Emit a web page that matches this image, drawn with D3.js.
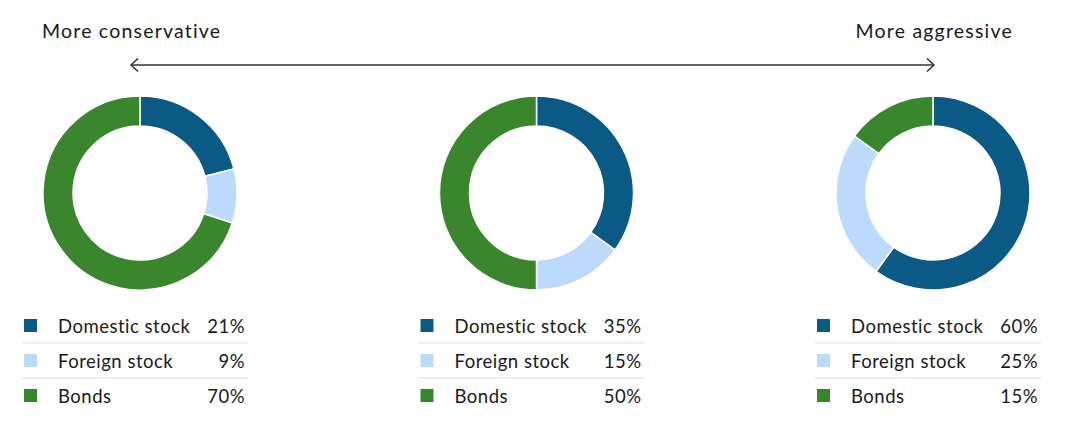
<!DOCTYPE html>
<html>
<head>
<meta charset="utf-8">
<style>
  body { margin: 0; background: #fff; }
  svg { display: block; font-family: Lato, "Open Sans", sans-serif; }
</style>
</head>
<body>
<script src="https://cdn.jsdelivr.net/npm/d3@7"></script>
<script>
var categories = ["Domestic stock", "Foreign stock", "Bonds"];
var conservative = [21, 9, 70];
var balanced = [35, 15, 50];
var aggressive = [60, 25, 15];
var portfolios = [conservative, balanced, aggressive];
var colors = ["#0b5a85", "#bcdbfc", "#3a862c"];

var w = 1078, h = 426,
    cy = 193,
    rOuter = 97,
    rInner = 67;

var svg = d3.select("body").append("svg")
    .attr("width", w)
    .attr("height", h);

var x = d3.scalePoint()
    .domain(d3.range(portfolios.length))
    .range([140, 933]);

var color = d3.scaleOrdinal().domain(categories).range(colors);

// header labels + arrow
svg.append("text")
    .attr("x", 42).attr("y", 38)
    .style("font-size", "19.5px").style("letter-spacing", "1.2px").style("fill", "#1a1a1a")
    .text("More conservative");
svg.append("text")
    .attr("x", 1013).attr("y", 38)
    .attr("text-anchor", "end")
    .style("font-size", "19.5px").style("letter-spacing", "1.2px").style("fill", "#1a1a1a")
    .text("More aggressive");

svg.append("line")
    .attr("x1", 131).attr("x2", 934)
    .attr("y1", 65).attr("y2", 65)
    .style("stroke", "#333").style("stroke-width", 1.5);
svg.append("path")
    .attr("d", "M138,58.5L131,65L138,71.5")
    .style("fill", "none").style("stroke", "#333").style("stroke-width", 1.5);
svg.append("path")
    .attr("d", "M927,58.5L934,65L927,71.5")
    .style("fill", "none").style("stroke", "#333").style("stroke-width", 1.5);

var pie = d3.pie().sort(null).value(function(d) { return d; });
var arc = d3.arc().innerRadius(rInner).outerRadius(rOuter);

var groups = svg.selectAll("g.portfolio")
    .data(portfolios)
  .enter().append("g")
    .attr("class", "portfolio")
    .attr("transform", function(d, i) { return "translate(" + x(i) + ",0)"; });

groups.append("g")
    .attr("transform", "translate(0," + cy + ")")
  .selectAll("path")
    .data(function(d) { return pie(d); })
  .enter().append("path")
    .attr("d", arc)
    .style("fill", function(d, i) { return colors[i]; })
    .style("stroke", "#fff")
    .style("stroke-width", 1.5);

// legend rows
var rowY = d3.scalePoint().domain(categories).range([326, 396]);

var rows = groups.selectAll("g.row")
    .data(function(d) {
      return categories.map(function(c, i) { return {name: c, value: d[i]}; });
    })
  .enter().append("g")
    .attr("class", "row")
    .attr("transform", function(d) { return "translate(0," + rowY(d.name) + ")"; });

rows.append("rect")
    .attr("x", -116).attr("y", -7)
    .attr("width", 13).attr("height", 13)
    .style("fill", function(d) { return color(d.name); });

rows.append("text")
    .attr("x", -82).attr("y", 6.5)
    .style("font-size", "18.5px").style("letter-spacing", "0.5px").style("fill", "#1a1a1a")
    .text(function(d) { return d.name; });

rows.append("text")
    .attr("x", 105).attr("y", 6.5)
    .attr("text-anchor", "end")
    .style("font-size", "18.5px").style("letter-spacing", "0.5px").style("fill", "#1a1a1a")
    .text(function(d) { return d.value + "%"; });

rows.filter(function(d, i) { return i > 0; })
  .append("line")
    .attr("x1", -118).attr("x2", 108)
    .attr("y1", -18).attr("y2", -18)
    .style("stroke", "#ddd").style("stroke-width", 1);
</script>
</body>
</html>
